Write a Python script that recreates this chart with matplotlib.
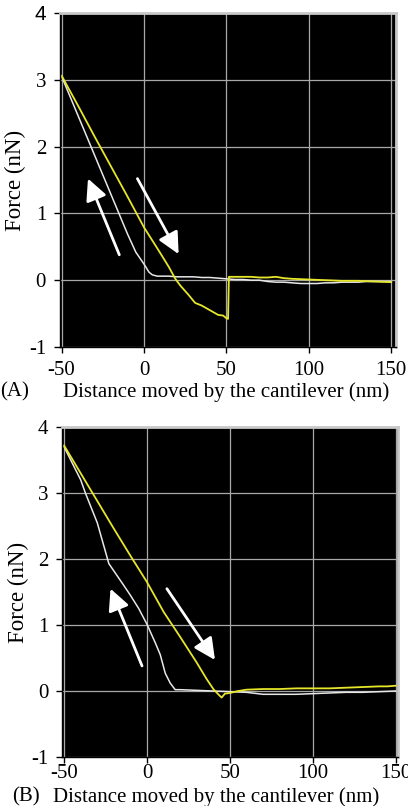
import matplotlib
matplotlib.use("Agg")
import matplotlib.pyplot as plt

# Panel A: retract (white) and approach (yellow) curves
a_ret_x = [-50, -40, -30, -20, -10, -5, 0, 3, 5, 8, 15, 20, 25, 30, 35, 40, 45, 50, 55, 60,
           65, 70, 75, 80, 85, 90, 95, 100, 105, 110, 115, 120, 125, 130, 135, 140, 145, 150]
a_ret_y = [3.05, 2.46, 1.87, 1.28, 0.69, 0.42, 0.24, 0.12, 0.08, 0.06, 0.06, 0.05, 0.05, 0.05,
           0.04, 0.04, 0.03, 0.02, 0.01, 0.01, 0.0, 0.0, -0.02, -0.03, -0.03, -0.04, -0.05,
           -0.05, -0.05, -0.04, -0.04, -0.03, -0.03, -0.03, -0.02, -0.02, -0.02, -0.02]
a_app_x = [-50, -40, -30, -20, -10, 0, 10, 15, 19, 22, 27, 31, 35, 40, 45, 48, 50, 51, 51.5,
           55, 60, 65, 70, 75, 80, 85, 90, 100, 110, 120, 130, 140, 150]
a_app_y = [3.06, 2.61, 2.15, 1.70, 1.25, 0.79, 0.40, 0.20, 0.02, -0.08, -0.22, -0.34, -0.38,
           -0.45, -0.52, -0.53, -0.57, -0.58, 0.05, 0.05, 0.05, 0.05, 0.04, 0.04, 0.05, 0.03,
           0.02, 0.01, 0.0, -0.01, -0.01, -0.02, -0.03]

# Panel B
b_ret_x = [-50, -45, -40, -37, -30, -23, -14, -10, -5, 0, 5, 8, 11, 14, 17, 20, 30, 40, 50,
           60, 70, 80, 90, 100, 110, 120, 130, 140, 150]
b_ret_y = [3.70, 3.45, 3.20, 2.99, 2.55, 1.93, 1.60, 1.45, 1.25, 1.01, 0.73, 0.55, 0.27, 0.12,
           0.02, 0.02, 0.01, 0.0, -0.01, -0.02, -0.05, -0.05, -0.05, -0.04, -0.03, -0.02,
           -0.02, -0.01, 0.0]
b_app_x = [-50, -40, -30, -20, -10, 0, 10, 20, 30, 36, 40, 43, 45, 47, 50, 55, 60, 70, 80,
           90, 100, 110, 120, 130, 140, 145, 150]
b_app_y = [3.72, 3.30, 2.88, 2.46, 2.05, 1.65, 1.20, 0.82, 0.43, 0.18, 0.03, -0.05, -0.10,
           -0.04, -0.03, 0.0, 0.02, 0.03, 0.03, 0.04, 0.04, 0.04, 0.05, 0.06, 0.07, 0.07, 0.08]

# arrows: (tail, head) in data coords
a_arrows = [((-15, 0.38), (-34, 1.52)), ((-4, 1.52), (21, 0.39))]
b_arrows = [((-3, 0.38), (-22, 1.55)), ((12, 1.55), (41, 0.47))]

xticks = [-50, 0, 50, 100, 150]
yticks = [-1, 0, 1, 2, 3, 4]

plt.rcParams['font.family'] = ['Liberation Serif', 'DejaVu Serif']
plt.rcParams['axes.unicode_minus'] = False
fig = plt.figure(figsize=(4.08, 8.06), dpi=100)

panels = [
    ([0.147, 0.5695, 0.824, 0.4145], (-51, 153), a_ret_x, a_ret_y, a_app_x, a_app_y, a_arrows,
     "(A)", 1 - 392 / 806, 6),
    ([0.153, 0.0608, 0.823, 0.4094], (-51, 151.5), b_ret_x, b_ret_y, b_app_x, b_app_y, b_arrows,
     "(B)", 1 - 797 / 806, 1),
]

for rect, xl, rx, ry, ax_, ay_, arrows, tag, ylab, xpad in panels:
    ax = fig.add_axes(rect)
    ax.set_facecolor('black')
    ax.set_xlim(*xl)
    ax.set_ylim(-1, 4)
    ax.set_xticks(xticks)
    ax.set_yticks(yticks)
    ax.grid(True, color='#a8a8a8', lw=0.9)
    ax.set_axisbelow(True)
    for s in ['top', 'right']:
        ax.spines[s].set_color('#c8c8c8')
        ax.spines[s].set_linewidth(2)
    for s in ['left', 'bottom']:
        ax.spines[s].set_color('black')
        ax.spines[s].set_linewidth(1.0)
    ax.tick_params(labelsize=15, length=4, width=1)
    ax.tick_params(axis='y', pad=6)
    ax.tick_params(axis='x', pad=xpad)
    if tag == "(A)":
        # the top label of panel A is set in a sans face
        ax.get_yticklabels()[-1].set_family('Liberation Sans')
    ax.plot(rx, ry, color='#e8e8e8', lw=1.1)
    ax.plot(ax_, ay_, color='#e6e62a', lw=1.3)
    for tail, head in arrows:
        ax.annotate('', xy=head, xytext=tail,
                    arrowprops=dict(arrowstyle='-|>,head_length=0.65,head_width=0.32',
                                    mutation_scale=20, lw=2, color='white',
                                    shrinkA=0, shrinkB=0))
    ax.set_ylabel('Force (nN)', fontsize=16.5)
    ax.yaxis.set_label_coords(-0.10, 0.5)
    fig.text(0.0 if tag == "(A)" else 0.03, ylab, tag, fontsize=15, va='center')
    fig.text(0.155 if tag == "(A)" else 0.13, ylab, 'Distance moved by the cantilever (nm)',
             fontsize=15, va='center')

fig.savefig('out.png', dpi=100)
